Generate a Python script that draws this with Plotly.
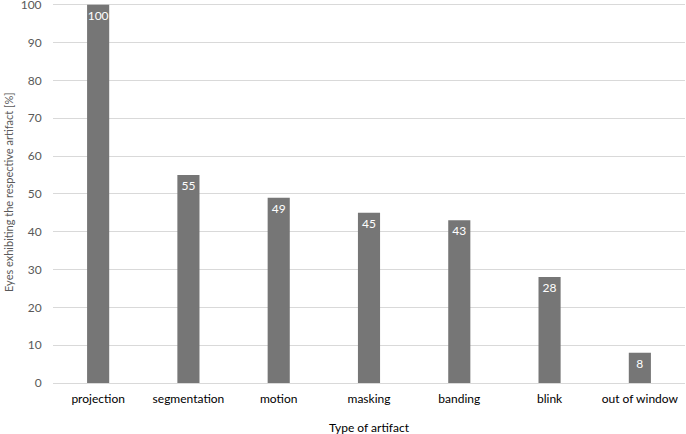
import plotly.graph_objects as go

categories = ["projection", "segmentation", "motion", "masking", "banding", "blink", "out of window"]
values = [100, 55, 49, 45, 43, 28, 8]
y_ticks = list(range(0, 101, 10))

FONT = "Lato"

fig = go.Figure(go.Bar(
    x=categories, y=values,
    marker=dict(color="#767676", line=dict(width=0)),
    text=[str(v) for v in values],
    textposition="inside", insidetextanchor="end", textangle=0,
    textfont=dict(color="white", size=12, family=FONT),
    cliponaxis=False,
))
fig.update_layout(
    width=686, height=434,
    margin=dict(l=53, r=1, t=1, b=51, autoexpand=False),
    paper_bgcolor="white", plot_bgcolor="white",
    bargap=0.755,
    showlegend=False,
    uniformtext=dict(minsize=12, mode="show"),
    font=dict(family=FONT, size=12, color="#595959"),
    xaxis=dict(
        automargin=False,
        tickfont=dict(size=12, color="#000000"),
        showgrid=False, zeroline=False, showline=False, ticks="outside", ticklen=5, tickcolor="rgba(0,0,0,0)",
    ),
    yaxis=dict(
        automargin=False,
        range=[0, 101], tickvals=y_ticks,
        ticklabeloverflow="allow",
        showgrid=True, gridcolor="#d9d9d9", gridwidth=1,
        zeroline=True, zerolinecolor="#d9d9d9", zerolinewidth=1,
        showline=False, ticks="outside", ticklen=8, tickcolor="rgba(0,0,0,0)",
        tickfont=dict(size=12, color="#595959"),
    ),
    annotations=[
        dict(text="Type of artifact", xref="paper", yref="paper", x=0.5, y=0,
             yshift=-44, yanchor="middle", showarrow=False,
             font=dict(size=12, color="#000000", family=FONT)),
        dict(text="Eyes exhibiting the respective artifact [%]", xref="paper", yref="paper",
             x=0, y=0.5, xshift=-45, xanchor="center", textangle=-90, showarrow=False,
             font=dict(size=11, color="#595959", family=FONT)),
    ],
)
fig.write_html("out.html", config={"displayModeBar": False},
               post_script="document.body.style.margin='0px';document.body.style.overflow='hidden';")
